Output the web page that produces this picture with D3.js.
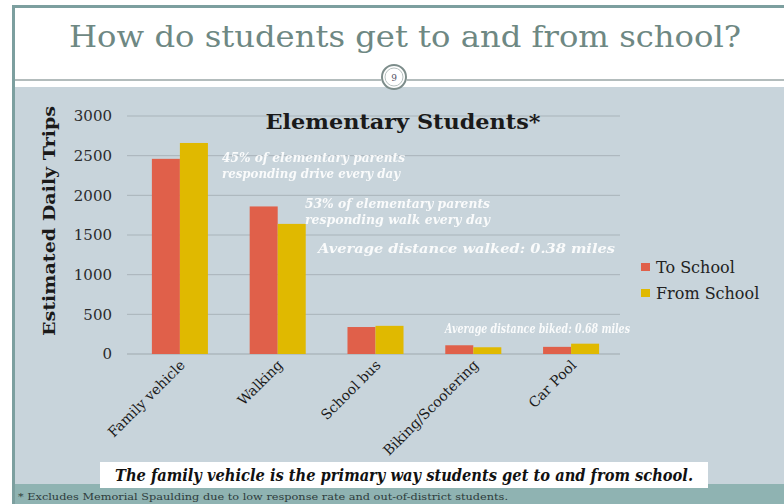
<!DOCTYPE html>
<html>
<head>
<meta charset="utf-8">
<script src="https://cdn.jsdelivr.net/npm/d3@7"></script>
<style>
  html, body { margin: 0; padding: 0; background: #ffffff; }
  svg { display: block; }
  text { font-family: "DejaVu Serif", "Liberation Serif", serif; }
</style>
</head>
<body>
<svg id="chart" width="784" height="504"></svg>
<script>
// Trip counts by travel mode
const categories = ["Family vehicle", "Walking", "School bus", "Biking/Scootering", "Car Pool"];
const seriesNames = ["To School", "From School"];
const toSchool = [2460, 1860, 340, 110, 90];
const fromSchool = [2660, 1640, 355, 85, 130];
const yTicks = [0, 500, 1000, 1500, 2000, 2500, 3000];
const notes = [
  "45% of elementary parents",
  "responding drive every day",
  "53% of elementary parents",
  "responding walk every day",
  "Average distance walked: 0.38 miles",
  "Average distance biked: 0.68 miles"
];

const colors = ["#e0604a", "#e0b900"];
const svg = d3.select("#chart");

// Slide backdrop
svg.append("rect").attr("x", 0).attr("y", 0).attr("width", 784).attr("height", 504).attr("fill", "#ffffff");
svg.append("rect").attr("x", 14).attr("y", 87).attr("width", 770).attr("height", 399).attr("fill", "#c8d4db");
svg.append("rect").attr("x", 14).attr("y", 484).attr("width", 770).attr("height", 20).attr("fill", "#8fb3b2");
// teal frame
svg.append("path").attr("d", "M13.5,504 V6.5 H784").attr("fill", "none").attr("stroke", "#7c9f9f").attr("stroke-width", 3);

// Header rule and page marker
svg.append("line").attr("x1", 15).attr("x2", 381).attr("y1", 80).attr("y2", 80).attr("stroke", "#9aa6a6").attr("stroke-width", 1.5);
svg.append("line").attr("x1", 407).attr("x2", 784).attr("y1", 80).attr("y2", 80).attr("stroke", "#9aa6a6").attr("stroke-width", 1.5);
svg.append("circle").attr("cx", 394).attr("cy", 77).attr("r", 12).attr("fill", "#ffffff").attr("stroke", "#7d8d8b").attr("stroke-width", 2);
svg.append("circle").attr("cx", 394).attr("cy", 77).attr("r", 9).attr("fill", "none").attr("stroke", "#b7c1c0").attr("stroke-width", 1);
svg.append("text").attr("x", 394).attr("y", 80.5).attr("text-anchor", "middle").attr("font-size", 9).attr("fill", "#556").text("9");

svg.append("text").attr("x", 405).attr("y", 47).attr("text-anchor", "middle")
  .attr("font-size", 29).attr("fill", "#6e8883")
  .attr("textLength", 672).attr("lengthAdjust", "spacingAndGlyphs")
  .text("How do students get to and from school?");

// Scales
const y = d3.scaleLinear().domain([0, 3000]).range([354, 116]);
const x0 = d3.scaleBand().domain(categories).range([131, 620]).paddingInner(0.427).paddingOuter(0.2135);
const x1 = d3.scaleBand().domain(seriesNames).range([0, x0.bandwidth()]);

// Gridlines
const g = svg.append("g");
g.selectAll("line.grid").data(yTicks).join("line")
  .attr("class", "grid")
  .attr("x1", 127).attr("x2", 620)
  .attr("y1", d => y(d)).attr("y2", d => y(d))
  .attr("stroke", d => d === 0 ? "#9fa9ae" : "#a9b4ba").attr("stroke-width", 1);

// Y axis labels
const yAxis = d3.axisLeft(y).tickValues(yTicks).tickSize(0).tickPadding(0).tickFormat(d3.format("d"));
const ya = svg.append("g").attr("transform", "translate(112,0)").call(yAxis);
ya.select(".domain").remove();
ya.selectAll("text").attr("font-size", 15).attr("fill", "#2b2b2b")
  .attr("font-family", "'DejaVu Serif', serif");

svg.append("text")
  .attr("transform", "translate(55,221) rotate(-90)")
  .attr("text-anchor", "middle").attr("font-size", 17).attr("font-weight", "bold").attr("fill", "#1a1a1a")
  .attr("textLength", 230).attr("lengthAdjust", "spacingAndGlyphs")
  .text("Estimated Daily Trips");

// Bars
const rows = categories.map((c, i) => ({ cat: c, vals: [toSchool[i], fromSchool[i]] }));
const groups = svg.append("g").selectAll("g").data(rows).join("g")
  .attr("transform", d => `translate(${x0(d.cat)},0)`);
groups.selectAll("rect").data(d => d.vals.map((v, k) => ({ key: seriesNames[k], v, k })))
  .join("rect")
  .attr("x", d => x1(d.key))
  .attr("width", x1.bandwidth())
  .attr("y", d => y(d.v))
  .attr("height", d => y(0) - y(d.v))
  .attr("fill", d => colors[d.k]);

// Category labels
svg.append("g").selectAll("text").data(categories).join("text")
  .attr("transform", d => `translate(${x0(d) + x0.bandwidth() / 2 + 6},${366}) rotate(-45)`)
  .attr("text-anchor", "end").attr("font-size", 14).attr("fill", "#1a1a1a")
  .text(d => d);

// Chart title
svg.append("text").attr("x", 403).attr("y", 129).attr("text-anchor", "middle")
  .attr("font-size", 20).attr("font-weight", "bold").attr("fill", "#1a1a1a")
  .attr("textLength", 275).attr("lengthAdjust", "spacingAndGlyphs")
  .text("Elementary Students*");

// Legend
const legend = svg.append("g").selectAll("g").data(seriesNames).join("g")
  .attr("transform", (d, i) => `translate(641,${267 + i * 26})`);
legend.append("rect").attr("x", 0).attr("y", -4).attr("width", 9).attr("height", 8).attr("fill", (d, i) => colors[i]);
legend.append("text").attr("x", 15).attr("y", 6).attr("font-size", 16).attr("fill", "#222")
  .attr("font-family", "'Liberation Serif', serif")
  .text(d => d);

// Survey notes in white italic
const notePos = [[222, 162], [222, 178], [305, 208], [305, 224], [318, 253], [445, 333]];
const noteW = [183, 178, 185, 185, 297, 185];
const blur = svg.append("defs").append("filter").attr("id", "soft");
blur.append("feGaussianBlur").attr("stdDeviation", 0.7);
svg.append("g").attr("filter", "url(#soft)").selectAll("text").data(notes).join("text")
  .attr("x", (d, i) => notePos[i][0]).attr("y", (d, i) => notePos[i][1])
  .attr("font-size", 13).attr("font-style", "italic").attr("font-weight", "bold")
  .attr("fill", "#ffffff").attr("fill-opacity", 0.9)
  .attr("textLength", (d, i) => noteW[i]).attr("lengthAdjust", "spacingAndGlyphs")
  .text(d => d);

// Takeaway box
svg.append("rect").attr("x", 100).attr("y", 462).attr("width", 608).attr("height", 26).attr("fill", "#ffffff");
svg.append("text").attr("x", 404).attr("y", 481).attr("text-anchor", "middle")
  .attr("font-size", 16).attr("font-weight", "bold").attr("font-style", "italic").attr("fill", "#111")
  .attr("textLength", 578).attr("lengthAdjust", "spacingAndGlyphs")
  .text("The family vehicle is the primary way students get to and from school.");

// Footnote
svg.append("text").attr("x", 18).attr("y", 500).attr("font-size", 9).attr("fill", "#2d3b3b")
  .attr("textLength", 490).attr("lengthAdjust", "spacingAndGlyphs")
  .text("* Excludes Memorial Spaulding due to low response rate and out-of-district students.");
</script>
</body>
</html>
